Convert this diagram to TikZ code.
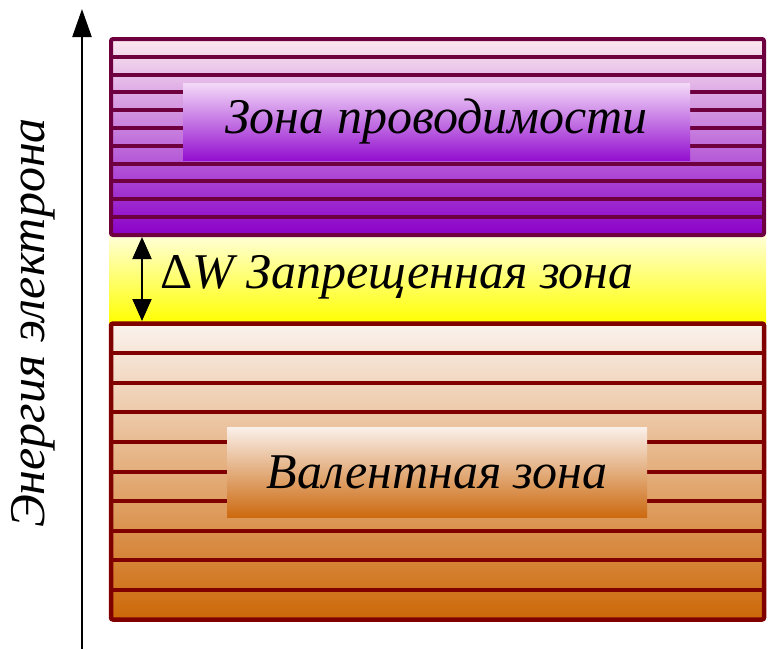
\documentclass[tikz,border=0pt]{standalone}
\usepackage{fontspec}
\newfontfamily\tnr{Liberation Serif}
\usetikzlibrary{arrows.meta}
\definecolor{cbtop}{HTML}{FCEAF0}
\definecolor{cbbot}{HTML}{8A00C8}
\definecolor{cbline}{HTML}{6E0040}
\definecolor{cboxtop}{HTML}{F4DAF8}
\definecolor{cboxbot}{HTML}{9410D0}
\definecolor{vbtop}{HTML}{FBF3EE}
\definecolor{vbbot}{HTML}{CC6808}
\definecolor{vbline}{HTML}{800000}
\definecolor{vboxtop}{HTML}{FAF0EA}
\definecolor{vboxbot}{HTML}{CC6A10}
\definecolor{gaptop}{HTML}{FFFFD8}
\definecolor{gapbot}{HTML}{FFFF00}
\tikzset{
  lbl/.style={font=\tnr\fontsize{50}{60}\selectfont\itshape, text=black, inner sep=0pt},
  cbstrip/.style={draw=cbline, line width=4pt},
  vbstrip/.style={draw=vbline, line width=4pt},
  axisline/.style={line width=2.4pt, -{Triangle[length=28pt,width=19pt]}},
  gaparrow/.style={line width=2pt, {Triangle[length=22pt,width=19pt]}-{Triangle[length=22pt,width=19pt]}},
}
\begin{document}
\begin{tikzpicture}[x=1pt,y=-1pt]
\useasboundingbox (0,0) rectangle (770,649);
% gap band
\fill[top color=gaptop, bottom color=gapbot] (109,235) rectangle (766,323.5);
% conduction band
\shade[top color=cbtop, bottom color=cbbot] (111,39) rectangle (764,235);
\foreach \k in {1,...,10} {
  \draw[cbstrip] (111,39+17.8*\k) -- (764,39+17.8*\k);
}
\draw[cbstrip, rounded corners=2pt] (111,39) rectangle (764,235);
% valence band
\shade[top color=vbtop, bottom color=vbbot] (111,323.5) rectangle (764,619.5);
\foreach \k in {1,...,9} {
  \draw[vbstrip] (111,323.5+29.6*\k) -- (764,323.5+29.6*\k);
}
\draw[vbstrip, line width=4.5pt, rounded corners=2pt] (111,323.5) rectangle (764,619.5);
% label boxes
\node[lbl, top color=cboxtop, bottom color=cboxbot, minimum width=507pt, minimum height=77pt] (cbox) at (436.5,121.5) {Зона проводимости};
\node[lbl, top color=vboxtop, bottom color=vboxbot, minimum width=420pt, minimum height=90pt] (vbox) at (437,472) {Валентная зона};
% gap label
\node[lbl] (gap) at (397,277) {{\upshape Δ}W Запрещенная зона};
% gap arrow
\coordinate (gtop) at (142,237);
\coordinate (gbot) at (142,321);
\draw[gaparrow] (gtop) -- (gbot);
% energy axis
\coordinate (axb) at (82,649);
\coordinate (axt) at (82,9);
\draw[axisline] (axb) -- (axt);
\node[lbl, rotate=90] (axlabel) at (33,323) {Энергия электрона};
\end{tikzpicture}
\end{document}
